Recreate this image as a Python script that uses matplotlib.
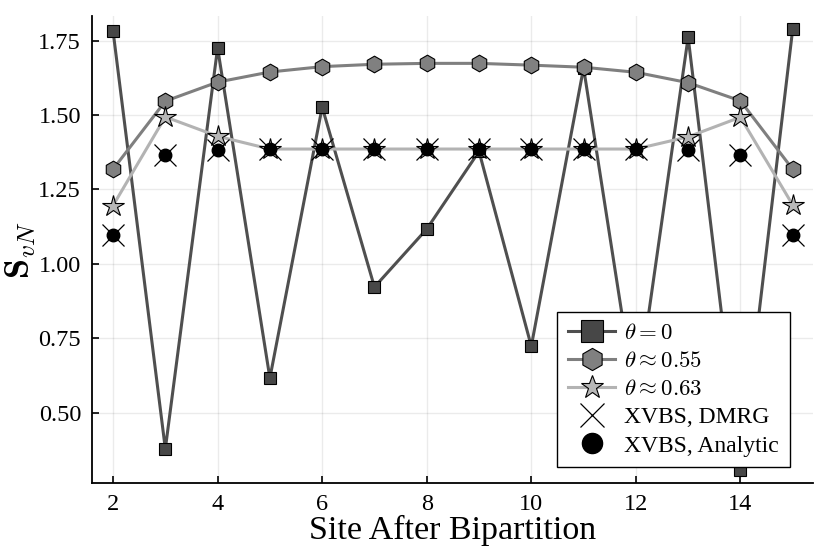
import matplotlib
matplotlib.use("Agg")
import matplotlib.pyplot as plt

plt.rcParams['font.family'] = ['Liberation Serif', 'DejaVu Serif']
plt.rcParams['mathtext.fontset'] = 'cm'

# site after bipartition
sites = [2, 3, 4, 5, 6, 7, 8, 9, 10, 11, 12, 13, 14, 15]

# von Neumann entropy for each case
s_theta0 = [1.783, 0.378, 1.726, 0.616, 1.527, 0.922, 1.117, 1.378, 0.723, 1.659, 0.531, 1.762, 0.307, 1.789]
s_theta055 = [1.318, 1.547, 1.611, 1.645, 1.663, 1.671, 1.674, 1.674, 1.668, 1.661, 1.644, 1.609, 1.548, 1.318]
s_theta063 = [1.196, 1.494, 1.429, 1.386, 1.386, 1.386, 1.386, 1.386, 1.386, 1.386, 1.386, 1.427, 1.493, 1.198]
s_dmrg = [1.097, 1.366, 1.383, 1.386, 1.386, 1.386, 1.386, 1.386, 1.386, 1.386, 1.386, 1.383, 1.366, 1.097]
s_analytic = [1.097, 1.366, 1.383, 1.386, 1.386, 1.386, 1.386, 1.386, 1.386, 1.386, 1.386, 1.383, 1.366, 1.097]

xticks = [2, 4, 6, 8, 10, 12, 14]
yticks = [0.50, 0.75, 1.00, 1.25, 1.50, 1.75]

fig = plt.figure(figsize=(8.3, 5.54), dpi=100)
ax = fig.add_axes([0.111, 0.128, 0.868, 0.843])

ax.plot(sites, s_theta0, color='#4f4f4f', lw=2.2, marker='s', ms=9,
        mfc='#474747', mec='black', mew=0.8, label=r'$\theta = 0$')
ax.plot(sites, s_theta055, color='#7f7f7f', lw=2.2, marker='h', ms=12,
        mfc='#808080', mec='black', mew=0.8, label=r'$\theta \approx 0.55$')
ax.plot(sites, s_theta063, color='#b3b3b3', lw=2.2, marker='*', ms=16,
        mfc='#b8b8b8', mec='black', mew=0.8, label=r'$\theta \approx 0.63$')
ax.plot(sites, s_dmrg, ls='none', marker='x', ms=16, mec='black', mew=0.9,
        label='XVBS, DMRG')
ax.plot(sites, s_analytic, ls='none', marker='o', ms=9, mfc='black', mec='black',
        label='XVBS, Analytic')

ax.set_xlim(1.6, 15.38)
ax.set_ylim(0.263, 1.833)
ax.set_xticks(xticks)
ax.set_yticks(yticks)
ax.set_yticklabels([f'{v:.2f}' for v in yticks])
ax.grid(True, color='black', alpha=0.08, lw=1)
ax.tick_params(direction='in', length=5, width=1.2, labelsize=17.5, pad=8)
for side in ['top', 'right']:
    ax.spines[side].set_visible(False)
for side in ['left', 'bottom']:
    ax.spines[side].set_linewidth(1.3)

ax.set_xlabel('Site After Bipartition', fontsize=24.5, labelpad=0)
ax.set_ylabel(r'$\mathbf{S}_{vN}$', fontsize=26, labelpad=0)

leg = ax.legend(loc='lower right', bbox_to_anchor=(0.968, 0.034), fontsize=17,
                frameon=True, fancybox=False, edgecolor='black', framealpha=1,
                borderpad=0.45, labelspacing=0.28, handlelength=2.0, handletextpad=0.38,
                borderaxespad=0)
leg.get_frame().set_linewidth(1.0)
# bigger markers in the legend, smaller math labels
for h, ms in zip(leg.legend_handles, [16, 16, 17, 17, 14.5]):
    h.set_markersize(ms)
for t in leg.get_texts()[:3]:
    t.set_fontsize(16.5)

fig.savefig('out.png', dpi=100)
